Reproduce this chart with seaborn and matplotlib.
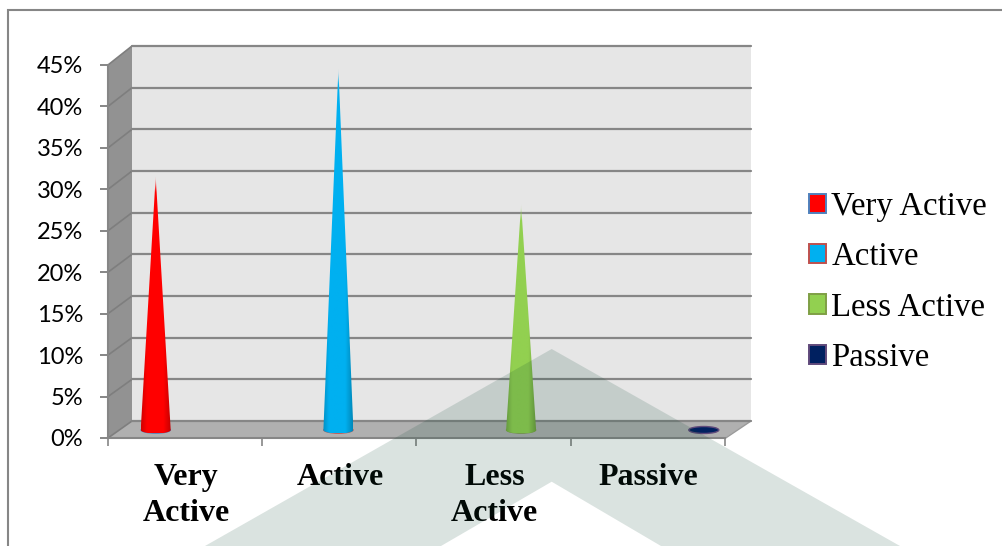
import numpy as np
import pandas as pd
import seaborn as sns
import matplotlib
matplotlib.use('Agg')
import matplotlib.pyplot as plt
from matplotlib.colors import to_rgb
from matplotlib.patches import Polygon, Ellipse, Patch

# data
categories = ['Very Active', 'Active', 'Less Active', 'Passive']
axis_labels = ['Very\nActive', 'Active', 'Less\nActive', 'Passive']
percent = [30.6, 43.6, 27.2, 0.0]
y_ticks = [0, 5, 10, 15, 20, 25, 30, 35, 40, 45]
colors = ['#ff0000', '#00b0f0', '#92d050', '#002060']
edge_colors = ['#4f81bd', '#c0504d', '#7f9f45', '#604a7b']

W, H = 1003, 546
GREY = '#868686'

sns.set_theme(style='white')
plt.rcParams['font.family'] = ['Lato', 'DejaVu Sans']

fig = plt.figure(figsize=(W / 100, H / 100), dpi=100, facecolor='white')


def px_axes(left, top, right, bottom, zorder):
    ax = fig.add_axes([left / W, 1 - bottom / H, (right - left) / W, (bottom - top) / H], zorder=zorder)
    ax.patch.set_alpha(0)
    return ax


# ---- pixel layer behind everything: frame, side wall, floor
ax_bg = px_axes(0, 0, W, H, 0)
ax_bg.set_xlim(0, W)
ax_bg.set_ylim(H, 0)
ax_bg.set_axis_off()
ax_bg.plot([8.5, 8.5, W], [H, 10, 10], color=GREY, lw=1.5, solid_joinstyle='miter')
ax_bg.add_patch(Polygon([(108, 65), (132, 46), (132, 421), (108, 438)], fc='#929292', ec='none'))
ax_bg.add_patch(Polygon([(108, 438), (132, 421), (751, 421), (725, 438)], fc='#b0b0b0', ec='none'))
for v in y_ticks:
    ax_bg.plot([108, 132], [438 - v / 45 * 373, 421 - v / 45 * 375], color='#7e7e7e', lw=1.2)
ax_bg.plot([725, 751], [438.5, 421], color='#9a9a9a', lw=1.0)

# ---- back wall with gridlines
ax_back = px_axes(132, 46, 751, 421, 1)
ax_back.patch.set_alpha(1)
ax_back.set_facecolor('#e6e6e6')
ax_back.set_ylim(0, 45)
ax_back.set_yticks(y_ticks)
ax_back.set_xticks([])
ax_back.tick_params(left=False, labelleft=False)
ax_back.grid(axis='y', color=GREY, lw=1.6)
ax_back.set_axisbelow(False)
sns.despine(ax=ax_back, left=True, right=True, top=True, bottom=True)
for line in ax_back.get_ygridlines():
    line.set_clip_on(False)

# ---- front plane: the visible axes
ax_main = px_axes(108, 65, 725, 438, 2)
ax_main.set_xlim(-0.5, 3.5)
ax_main.set_ylim(0, 45)
ax_main.set_yticks(y_ticks)
ax_main.set_yticklabels([f'{v}%' for v in y_ticks], fontsize=17, color='black')
ax_main.set_xticks(np.arange(-0.5, 4))
ax_main.set_xticklabels([])
ax_main.set_xticks(np.arange(4) + 0.005, labels=axis_labels, minor=True)
ax_main.tick_params(axis='y', left=True, length=6, width=1.4, color=GREY, pad=12)
ax_main.tick_params(axis='x', which='major', bottom=True, length=6, width=1.2, color=GREY)
ax_main.tick_params(axis='x', which='minor', bottom=False, length=0, pad=18.3)
for lab in ax_main.get_xticklabels(minor=True):
    lab.set_fontfamily('Liberation Serif')
    lab.set_fontweight('bold')
    lab.set_fontsize(23)
    lab.set_color('black')
    lab.set_linespacing(1.31)
sns.despine(ax=ax_main, top=True, right=True)
for side in ['left', 'bottom']:
    ax_main.spines[side].set_color(GREY)
    ax_main.spines[side].set_linewidth(1.5)

# ---- cones, they stand on their own category spacing in the depth plane
CONE_PX = 182.7
ax_cone = px_axes(155.7 - CONE_PX / 2, 430 - 373, 155.7 + 3.5 * CONE_PX, 430 + 373 / 45 * 2, 3)
df = pd.DataFrame({'level': categories, 'percent': percent})
sns.barplot(data=df, x='level', y='percent', hue='level', palette=colors, hue_order=categories,
            order=categories, width=30 / CONE_PX, legend=False, ax=ax_cone)
xlim_cone, ylim_cone = (-0.5, 3.5), (-2, 45)
BASE_H = 0.42  # half height of the base ellipse, in percent units

for bar, c, ec, val in zip(ax_cone.patches, colors, edge_colors, percent):
    bar.set_visible(False)
    x0, w = bar.get_x(), bar.get_width()
    xc = x0 + w / 2
    if val == 0:
        ax_cone.add_patch(Ellipse((xc, 0), w, 2 * BASE_H, fc=c, ec=ec, lw=1))
        continue
    # edge ellipse peeking out under the cone
    ax_cone.add_patch(Ellipse((xc, 0), w * 1.02, 2.2 * BASE_H, fc=ec, ec='none'))
    t = np.linspace(np.pi, 2 * np.pi, 30)
    outline = [(xc, val)] + list(zip(xc + w / 2 * np.cos(t), BASE_H * np.sin(t)))
    cone = Polygon(outline, closed=True, transform=ax_cone.transData, fc='none', ec='none')
    ax_cone.add_patch(cone)
    # shaded across, fading out at the tip
    rgb = np.array(to_rgb(c))
    s = np.linspace(-1, 1, 61)
    shade = 1 - 0.2 * np.clip(np.abs(s + 0.05) - 0.55, 0, None) / 0.45
    ys = np.linspace(1, 0, 200)
    img = np.zeros((200, 61, 4))
    img[..., :3] = rgb[None, None, :] * shade[None, :, None]
    tip = 1 - 16 / 8.29 / val
    img[..., 3] = np.clip((1 - ys) / (1 - tip), 0.2, 1)[:, None]
    im = ax_cone.imshow(img, extent=(x0, x0 + w, -BASE_H, val), aspect='auto', zorder=3, interpolation='bilinear')
    im.set_clip_path(cone)

ax_cone.set_xlim(*xlim_cone)
ax_cone.set_ylim(*ylim_cone)
ax_cone.set_axis_off()

# ---- pixel layer on top: legend and the chevron watermark of the page
ax_top = px_axes(0, 0, W, H, 4)
ax_top.set_xlim(0, W)
ax_top.set_ylim(H, 0)
ax_top.set_axis_off()
ax_top.add_patch(Polygon([(205, H), (551.7, 349), (900, H), (661, H), (551.7, 481.7), (441, H)],
                         fc=(8 / 255, 68 / 255, 48 / 255), alpha=0.15, ec='none'))

handles = [Patch(facecolor=c, edgecolor=ec, lw=1.4) for c, ec in zip(colors, edge_colors)]
ax_top.legend(handles, categories, loc='upper left', bbox_to_anchor=(799 / W, 1 - 182 / H), frameon=False,
              prop={'family': 'Liberation Serif', 'size': 23.6}, labelcolor='black',
              handlelength=0.52, handleheight=0.52, handletextpad=0.17, labelspacing=0.6, borderpad=0.3, borderaxespad=0)

fig.savefig('out.png', dpi=100)
